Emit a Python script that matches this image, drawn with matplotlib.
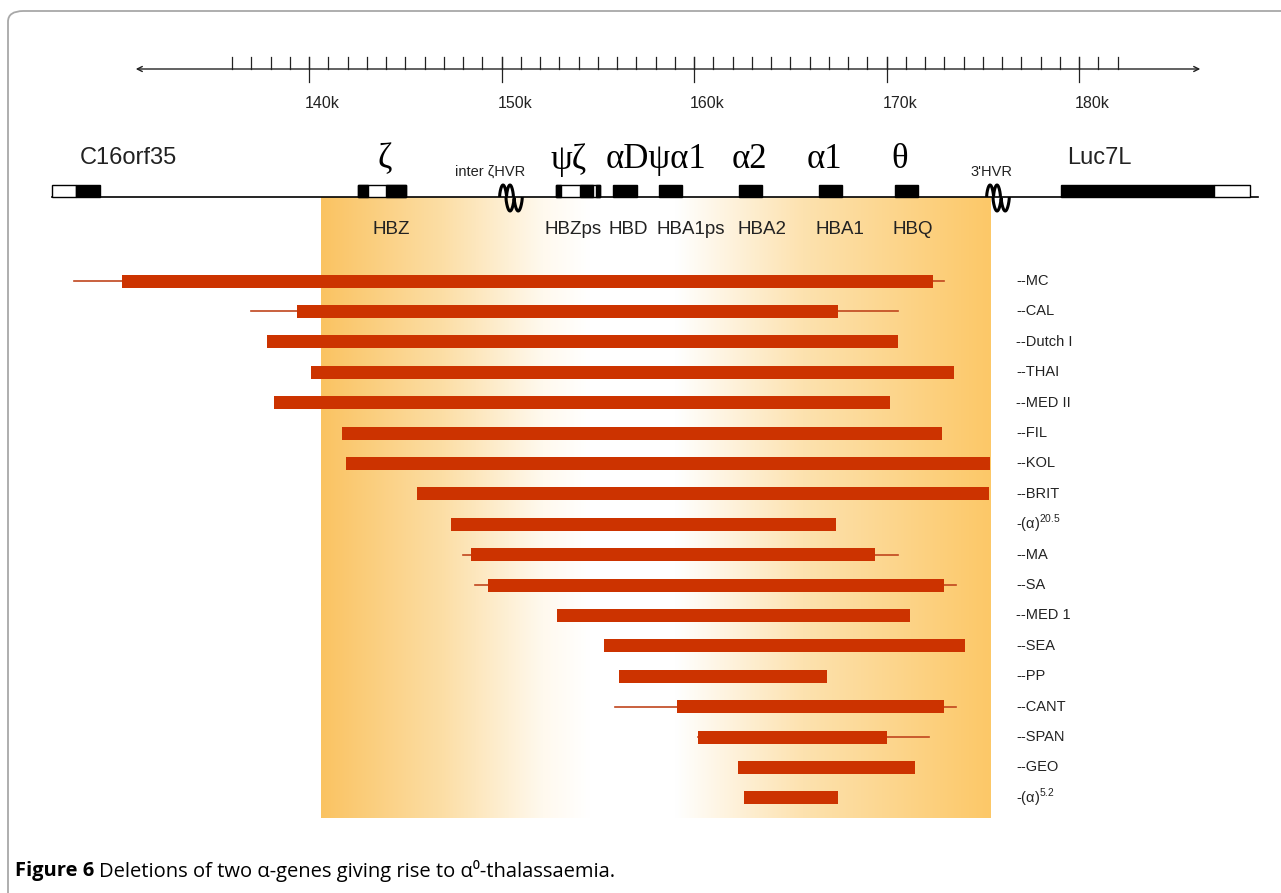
import matplotlib
matplotlib.use("Agg")
import matplotlib.pyplot as plt
import numpy as np
from matplotlib.patches import Rectangle, FancyBboxPatch

# ---------------- data (positions in kb) ----------------
deletions = ["--MC", "--CAL", "--Dutch I", "--THAI", "--MED II", "--FIL", "--KOL",
             "--BRIT", r"-($\mathregular{\alpha}$)$^{\mathregular{20.5}}$", "--MA", "--SA", "--MED 1",
             "--SEA", "--PP", "--CANT", "--SPAN", "--GEO",
             r"-($\mathregular{\alpha}$)$^{\mathregular{5.2}}$"]
# definite deleted region (thick bar)
del_start = [130.3, 139.4, 137.8, 140.1, 138.2, 141.7, 141.9, 145.6, 147.4, 148.4,
             149.3, 152.9, 155.3, 156.1, 159.1, 160.2, 162.3, 162.6]
del_end = [172.4, 167.5, 170.6, 173.5, 170.2, 172.9, 175.4, 175.3, 167.4, 169.4,
           173.0, 171.2, 174.1, 166.9, 173.0, 170.0, 171.5, 167.5]
# uncertain breakpoint range (thin line); None = no uncertainty
unc_start = [127.8, 137.0, None, None, None, None, None, None, None, 148.0,
             148.6, None, None, None, 155.9, None, None, None]
unc_end = [173.0, 170.6, None, None, None, None, None, None, None, 170.6,
           173.6, None, None, None, 173.6, 172.2, None, None]

# genes on the map
gene_names = ["HBZ", "HBZps", "HBD", "HBA1ps", "HBA2", "HBA1", "HBQ"]
gene_start = [142.55, 152.83, 155.79, 158.18, 162.34, 166.49, 170.44]
gene_end = [145.04, 155.12, 157.04, 159.38, 163.53, 167.69, 171.64]
gene_label_x = [144.26, 153.71, 156.57, 159.84, 163.53, 167.58, 171.38]
greek = ["ζ", "ψζ", "αDψα1", "α2", "α1", "θ"]
greek_x = [143.95, 153.5, 158.03, 162.86, 166.8, 170.7]
hvr_names = ["inter ζHVR", "3'HVR"]
hvr_pos = [149.9, 175.2]
flank_names = ["C16orf35", "Luc7L"]
ruler_major = [140, 150, 160, 170, 180]
ruler_minor = list(range(136, 183))
highlight = (140.6, 175.4)

# ---------------- figure ----------------
W, H = 1281, 893
fig = plt.figure(figsize=(W / 100, H / 100), dpi=100)
ax = fig.add_axes([0, 0, 1, 1])
px0 = 309.0
scale = 19.25  # px per kb


def kb(px):
    return 140 + (px - px0) / scale


SANS = ["Liberation Sans", "DejaVu Sans"]
SERIF = ["Liberation Serif", "DejaVu Serif"]
TXT = "#222222"

# border
border = FancyBboxPatch((8 / W, 1 - 1.2), 1.2, 1.2 - 11 / H,
                        boxstyle="round,pad=0,rounding_size=0.012",
                        transform=fig.transFigure, fc="none", ec="#a8a8a8",
                        lw=1.3, zorder=0)
fig.patches.append(border)

# gradient highlight
stops = np.array([0.0, 0.18, 0.33, 0.40, 0.53, 0.72, 1.0])
cols = np.array([[250, 195, 98], [252, 222, 165], [255, 249, 238], [255, 255, 255],
                 [255, 255, 255], [253, 226, 175], [252, 200, 104]]) / 255.0
xs = np.linspace(0, 1, 400)
grad = np.stack([np.interp(xs, stops, cols[:, c]) for c in range(3)], axis=-1)[None, :, :]
ax.imshow(grad, extent=[highlight[0], highlight[1], 818, 197], aspect="auto",
          interpolation="bilinear", zorder=1)
ax.set_xlim(kb(0), kb(W))
ax.set_ylim(H, 0)
ax.axis("off")

# ruler
ax.annotate("", xy=(131.0, 69), xytext=(186.3, 69),
            arrowprops=dict(arrowstyle="<->", lw=1.0, color=TXT,
                            mutation_scale=9, shrinkA=0, shrinkB=0), zorder=3)
for t in ruler_minor:
    ax.plot([t, t], [57, 69], color=TXT, lw=0.9, zorder=3)
for t in ruler_major:
    ax.plot([t, t], [57, 82], color=TXT, lw=0.9, zorder=3)
    ax.text(t - 0.2, 103, f"{t}k", ha="left", va="center", fontsize=11.5,
            family=SANS, color=TXT)

# gene map baseline
base = 197
ax.plot([126.65, 189.3], [base, base], color="black", lw=1.2, zorder=4)


def box(x0, x1, fc, y0=185, h=12):
    ax.add_patch(Rectangle((x0, y0), x1 - x0, h, fc=fc, ec="black", lw=1.0, zorder=5))


# C16orf35
box(126.65, 127.9, "white")
box(127.9, 129.14, "black")
# HBZ
box(142.55, 145.04, "white")
box(142.55, 143.06, "black")
box(144.0, 145.04, "black")
# HBZps
box(152.83, 155.12, "white")
box(152.83, 153.1, "black")
box(154.1, 154.75, "black")
box(154.9, 155.12, "black")
for i in range(2, len(gene_names)):
    box(gene_start[i], gene_end[i], "black")
# Luc7L
box(179.06, 187.01, "black")
box(187.01, 188.88, "white")

ax.text(kb(80), 158, flank_names[0], ha="left", va="center", fontsize=17,
        family=SANS, color=TXT)
ax.text(kb(1067), 158, flank_names[1], ha="left", va="center", fontsize=17,
        family=SANS, color=TXT)

for g, xg in zip(greek, greek_x):
    ax.text(xg, 160, g, ha="center", va="center", fontsize=25, family=SERIF,
            color="black")
for name, xl in zip(gene_names, gene_label_x):
    ax.text(xl, 230, name, ha="center", va="center", fontsize=13.5, family=SANS,
            color=TXT)


# HVR squiggles: "M" above the line, "W" below, shifted right
def squiggle(x0):
    t = np.linspace(0, 1, 160)
    shape = np.abs(np.sin(2 * np.pi * t)) ** 0.6
    xm = x0 + 0.72 * t
    ym = base - 12 * shape
    xw = x0 + 0.33 + 0.85 * t
    yw = base + 14 * shape
    ax.plot(xm, ym, color="black", lw=2.2, zorder=6, solid_capstyle="butt")
    ax.plot(xw, yw, color="black", lw=2.2, zorder=6, solid_capstyle="butt")


squiggle(hvr_pos[0])
squiggle(hvr_pos[1])
ax.text(kb(490), 172, hvr_names[0], ha="center", va="center", fontsize=10.5,
        family=SANS, color=TXT)
ax.text(kb(991), 172, hvr_names[1], ha="center", va="center", fontsize=10.5,
        family=SANS, color=TXT)

# deletion bars
row0, step = 281, 30.4
for i, name in enumerate(deletions):
    y = row0 + i * step
    if unc_start[i] is not None or unc_end[i] is not None:
        a = unc_start[i] if unc_start[i] is not None else del_start[i]
        b = unc_end[i] if unc_end[i] is not None else del_end[i]
        ax.plot([a, b], [y, y], color="#c0461e", lw=1.2, zorder=6)
    ax.barh(y, del_end[i] - del_start[i], left=del_start[i], height=13,
            color="#cc3300", zorder=7)
    ax.text(kb(1016), y, name, ha="left", va="center", fontsize=10.5,
            family=SANS, color=TXT)

# caption
cap_y = 1 - 871 / H
CAPF = ["Open Sans", "DejaVu Sans"]
t1 = fig.text(15 / W, cap_y, "Figure 6", ha="left", va="center", fontsize=14.5,
              fontweight="bold", family=CAPF, color="black")
fig.canvas.draw()
bb = t1.get_window_extent()
fig.text((bb.x1 + 5) / W, cap_y,
         "Deletions of two α-genes giving rise to α⁰-thalassaemia.",
         ha="left", va="center", fontsize=14.5, family=CAPF, color="black")

fig.savefig("out.png", dpi=100)
